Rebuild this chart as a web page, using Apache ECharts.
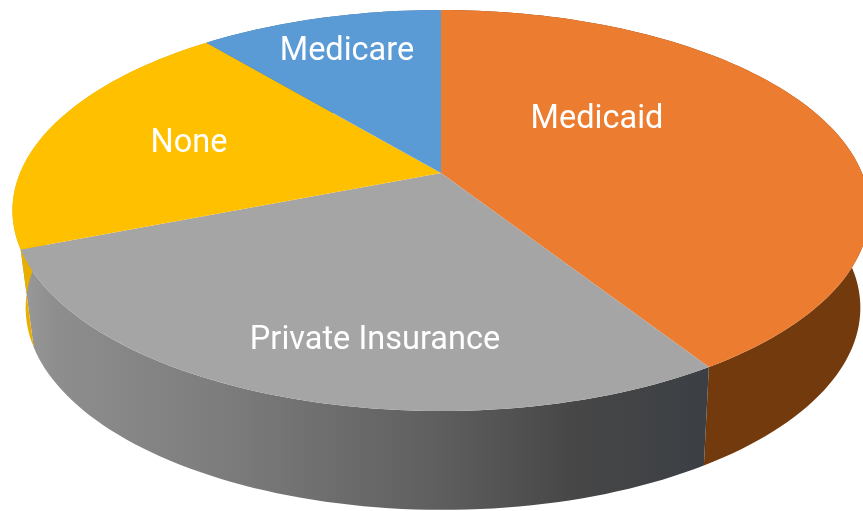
<!DOCTYPE html>
<html>
<head>
<meta charset="utf-8">
<style>html,body{margin:0;padding:0;background:#fff}#c{width:863px;height:511px}</style>
<script src="https://cdn.jsdelivr.net/npm/echarts@6/dist/echarts.min.js"></script>
</head>
<body>
<div id="c"></div>
<script>
// Data
const categories = ['Medicaid', 'Private Insurance', 'None', 'Medicare'];
const shares = [41, 28, 20, 11];

// Styles and projection of the tilted disc
const faceColors = ['#EC7C30', '#A5A5A5', '#FFC000', '#5B9BD5'];
const wallStops = [
  [[0, '#7A4012'], [1, '#733A0E']],
  [[0, '#9A9A9A'], [0.05, '#8E8E8E'], [0.3, '#7C7C7C'], [0.6, '#5F5F5F'], [0.8, '#474747'], [1, '#3B3F44']],
  [[0, '#E8AE00'], [1, '#D9A200']],
  [[0, '#3F6F9C'], [1, '#3F6F9C']]
];
const labelAt = [[597, 120], [375, 341], [189, 144], [347, 52]];
const persp = 0.187;
const topFace = { x: 441, y: 173, a: 421, b: 193.5 };
const baseFace = { x: 443, y: 270, a: 410, b: 195 };

const total = shares.reduce((s, v) => s + v, 0);
function project(face, deg) {
  const t = deg * Math.PI / 180, u = Math.sin(t), v = -Math.cos(t), w = 1 - persp * v;
  return [face.x + face.a * u / w, face.y + face.b * v / w];
}
function rim(face, from, to) {
  const n = Math.max(2, Math.ceil(Math.abs(to - from) / 1.5)), pts = [];
  for (let i = 0; i <= n; i++) pts.push(project(face, from + (to - from) * i / n));
  return pts;
}
function span(i) {
  let start = 0;
  for (let k = 0; k < i; k++) start += shares[k];
  return [start / total * 360, (start + shares[i]) / total * 360];
}

const chart = echarts.init(document.getElementById('c'), null, { renderer: 'canvas' });
chart.setOption({
  animation: false,
  backgroundColor: '#fff',
  series: [
    {
      type: 'custom', coordinateSystem: 'none', silent: true, z: 1,
      data: shares,
      renderItem(p) {
        const [a, b] = span(p.dataIndex);
        const pts = rim(topFace, a, b).concat(rim(baseFace, b, a));
        return {
          type: 'polygon', shape: { points: pts },
          style: {
            fill: new echarts.graphic.LinearGradient(20, 0, 710, 0,
              wallStops[p.dataIndex].map(s => ({ offset: s[0], color: s[1] })), true)
          }
        };
      }
    },
    {
      type: 'custom', coordinateSystem: 'none', silent: true, z: 2,
      data: shares,
      renderItem(p) {
        const i = p.dataIndex, [a, b] = span(i);
        return {
          type: 'polygon',
          shape: { points: [[topFace.x, topFace.y]].concat(rim(topFace, a, b)) },
          style: { fill: faceColors[i] }
        };
      }
    },
    {
      type: 'custom', coordinateSystem: 'none', silent: true, z: 3,
      data: categories,
      renderItem(p) {
        const i = p.dataIndex;
        return {
          type: 'text', x: labelAt[i][0], y: labelAt[i][1],
          style: {
            text: categories[i], fill: '#fff', align: 'center', verticalAlign: 'middle',
            font: '400 32.5px Roboto'
          }
        };
      }
    }
  ]
});
</script>
</body>
</html>
